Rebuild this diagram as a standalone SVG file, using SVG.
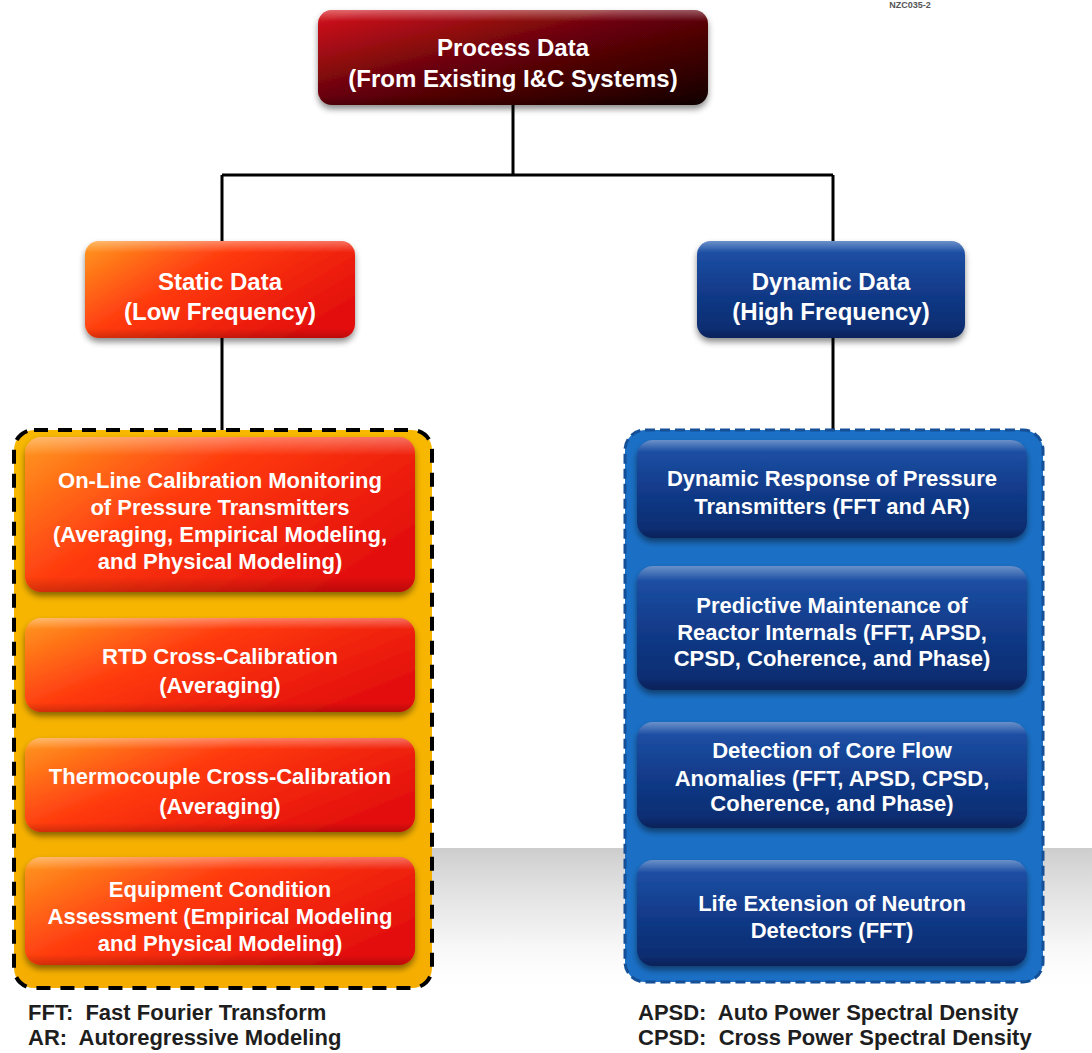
<svg xmlns="http://www.w3.org/2000/svg" width="1092" height="1053" viewBox="0 0 1092 1053">
<style>
.t{font-family:"Liberation Sans",Arial,sans-serif;font-weight:bold;fill:#ffffff;text-anchor:middle}
.tb{font-size:24px}
.ti{font-size:22px}
.lg{font-family:"Liberation Sans",Arial,sans-serif;font-weight:bold;font-size:22px;fill:#1e1e1e}
.conn{stroke:#000;stroke-width:3;fill:none}
</style>
<defs>
<linearGradient id="gTop" x1="0" y1="0" x2="1" y2="1">
<stop offset="0" stop-color="#d8141e"/><stop offset="0.45" stop-color="#6a0408"/><stop offset="1" stop-color="#120000"/>
</linearGradient>
<linearGradient id="gRed" x1="0" y1="0" x2="1" y2="0.6">
<stop offset="0" stop-color="#ff9a1e"/><stop offset="0.45" stop-color="#ff3a10"/><stop offset="1" stop-color="#e4100c"/>
</linearGradient>
<linearGradient id="gBlue" x1="0" y1="0" x2="0" y2="1">
<stop offset="0" stop-color="#1f55ab"/><stop offset="0.5" stop-color="#123b8a"/><stop offset="1" stop-color="#0c2a6c"/>
</linearGradient>
<linearGradient id="gGloss" x1="0" y1="0" x2="0" y2="1">
<stop offset="0" stop-color="#ffffff" stop-opacity="0.35"/><stop offset="0.12" stop-color="#ffffff" stop-opacity="0"/><stop offset="0.9" stop-color="#000000" stop-opacity="0"/><stop offset="1" stop-color="#000000" stop-opacity="0.18"/>
</linearGradient>
<linearGradient id="gFloor" x1="0" y1="0" x2="0" y2="1">
<stop offset="0" stop-color="#bcbcbc" stop-opacity="0.75"/><stop offset="0.5" stop-color="#dcdcdc" stop-opacity="0.5"/><stop offset="1" stop-color="#ffffff" stop-opacity="0"/>
</linearGradient>
<linearGradient id="gYel" x1="0" y1="0" x2="0" y2="1">
<stop offset="0" stop-color="#f8b800"/><stop offset="1" stop-color="#f5ae00"/>
</linearGradient>
<filter id="sh" x="-10%" y="-10%" width="120%" height="130%">
<feDropShadow dx="0" dy="4" stdDeviation="3" flood-color="#000" flood-opacity="0.45"/>
</filter>
</defs>
<rect width="1092" height="1053" fill="#ffffff"/>
<text x="910" y="8" font-family="Liberation Sans,Arial,sans-serif" font-size="9" font-weight="bold" fill="#555" text-anchor="middle">NZC035-2</text>
<rect x="432" y="848" width="660" height="150" fill="url(#gFloor)"/>

<g id="connectors">
<path class="conn" d="M513 105 V175 M222 175 H833 M222 175 V241 M833 175 V241 M222 338 V430 M833 338 V430"/>
</g>

<g id="process-data">
<rect x="318" y="10" width="390" height="95" rx="14" fill="url(#gTop)" filter="url(#sh)"/>
<rect x="318" y="10" width="390" height="95" rx="14" fill="url(#gGloss)"/>
<text class="t tb" x="513" y="56">Process Data</text>
<text class="t tb" x="513" y="87">(From Existing I&amp;C Systems)</text>
</g>

<g id="static-data">
<rect x="85" y="241" width="270" height="97" rx="14" fill="url(#gRed)" filter="url(#sh)"/>
<rect x="85" y="241" width="270" height="97" rx="14" fill="url(#gGloss)"/>
<text class="t tb" x="220" y="290">Static Data</text>
<text class="t tb" x="220" y="320">(Low Frequency)</text>
</g>

<g id="dynamic-data">
<rect x="697" y="241" width="268" height="97" rx="14" fill="url(#gBlue)" filter="url(#sh)"/>
<rect x="697" y="241" width="268" height="97" rx="14" fill="url(#gGloss)"/>
<text class="t tb" x="831" y="290">Dynamic Data</text>
<text class="t tb" x="831" y="320">(High Frequency)</text>
</g>

<g id="static-group">
<rect x="14" y="430" width="418" height="558" rx="20" fill="url(#gYel)" stroke="#000" stroke-width="4" stroke-dasharray="14 10"/>
</g>

<g id="dynamic-group">
<rect x="625" y="430" width="418" height="552" rx="20" fill="#1b70c6" stroke="#154f96" stroke-width="3" stroke-dasharray="10 5"/>
</g>

<g id="online-calibration">
<rect x="25" y="437" width="390" height="155" rx="16" fill="url(#gRed)" filter="url(#sh)"/>
<rect x="25" y="437" width="390" height="155" rx="16" fill="url(#gGloss)"/>
<text class="t ti" x="220" y="488">On-Line Calibration Monitoring</text>
<text class="t ti" x="220" y="515">of Pressure Transmitters</text>
<text class="t ti" x="220" y="542">(Averaging, Empirical Modeling,</text>
<text class="t ti" x="220" y="569">and Physical Modeling)</text>
</g>

<g id="rtd">
<rect x="25" y="618" width="390" height="94" rx="16" fill="url(#gRed)" filter="url(#sh)"/>
<rect x="25" y="618" width="390" height="94" rx="16" fill="url(#gGloss)"/>
<text class="t ti" x="220" y="664">RTD Cross-Calibration</text>
<text class="t ti" x="220" y="693">(Averaging)</text>
</g>

<g id="thermocouple">
<rect x="25" y="738" width="390" height="94" rx="16" fill="url(#gRed)" filter="url(#sh)"/>
<rect x="25" y="738" width="390" height="94" rx="16" fill="url(#gGloss)"/>
<text class="t ti" x="220" y="784">Thermocouple Cross-Calibration</text>
<text class="t ti" x="220" y="814">(Averaging)</text>
</g>

<g id="equipment">
<rect x="25" y="857" width="390" height="108" rx="16" fill="url(#gRed)" filter="url(#sh)"/>
<rect x="25" y="857" width="390" height="108" rx="16" fill="url(#gGloss)"/>
<text class="t ti" x="220" y="897">Equipment Condition</text>
<text class="t ti" x="220" y="924">Assessment (Empirical Modeling</text>
<text class="t ti" x="220" y="951">and Physical Modeling)</text>
</g>

<g id="dynamic-response">
<rect x="637" y="440" width="390" height="98" rx="16" fill="url(#gBlue)" filter="url(#sh)"/>
<rect x="637" y="440" width="390" height="98" rx="16" fill="url(#gGloss)"/>
<text class="t ti" x="832" y="486">Dynamic Response of Pressure</text>
<text class="t ti" x="832" y="514">Transmitters (FFT and AR)</text>
</g>

<g id="predictive-maintenance">
<rect x="637" y="566" width="390" height="124" rx="16" fill="url(#gBlue)" filter="url(#sh)"/>
<rect x="637" y="566" width="390" height="124" rx="16" fill="url(#gGloss)"/>
<text class="t ti" x="832" y="613">Predictive Maintenance of</text>
<text class="t ti" x="832" y="640">Reactor Internals (FFT, APSD,</text>
<text class="t ti" x="832" y="666">CPSD, Coherence, and Phase)</text>
</g>

<g id="core-flow">
<rect x="637" y="722" width="390" height="106" rx="16" fill="url(#gBlue)" filter="url(#sh)"/>
<rect x="637" y="722" width="390" height="106" rx="16" fill="url(#gGloss)"/>
<text class="t ti" x="832" y="758">Detection of Core Flow</text>
<text class="t ti" x="832" y="786">Anomalies (FFT, APSD, CPSD,</text>
<text class="t ti" x="832" y="811">Coherence, and Phase)</text>
</g>

<g id="neutron-detectors">
<rect x="637" y="860" width="390" height="106" rx="16" fill="url(#gBlue)" filter="url(#sh)"/>
<rect x="637" y="860" width="390" height="106" rx="16" fill="url(#gGloss)"/>
<text class="t ti" x="832" y="911">Life Extension of Neutron</text>
<text class="t ti" x="832" y="938">Detectors (FFT)</text>
</g>

<g id="legend-left">
<text class="lg" x="28" y="1020">FFT:&#160; Fast Fourier Transform</text>
<text class="lg" x="28" y="1045">AR:&#160; Autoregressive Modeling</text>
</g>
<g id="legend-right">
<text class="lg" x="638" y="1020">APSD:&#160; Auto Power Spectral Density</text>
<text class="lg" x="638" y="1045">CPSD:&#160; Cross Power Spectral Density</text>
</g>
</svg>
